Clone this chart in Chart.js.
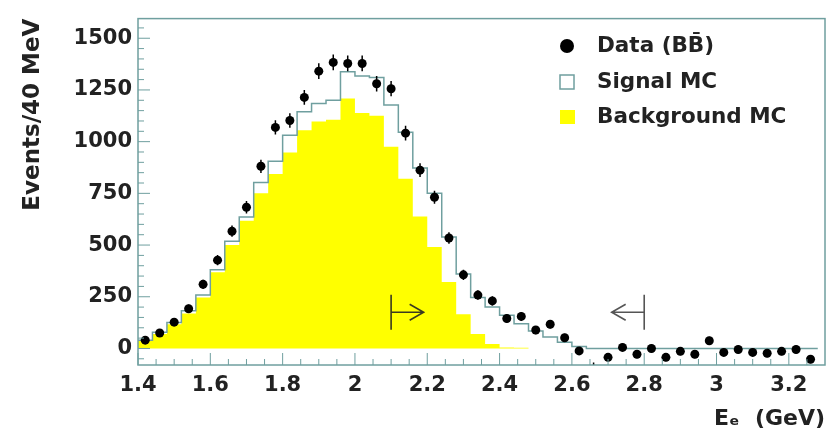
<!DOCTYPE html>
<html>
<head>
<meta charset="utf-8">
<script src="https://cdn.jsdelivr.net/npm/chart.js@4.4.1/dist/chart.umd.min.js"></script>
<style>
  body { margin: 0; background: #fff; }
</style>
</head>
<body>
<canvas id="chart" width="835" height="438"></canvas>
<script>
// bin centres (40 MeV bins)
const binCenters = [1.42, 1.46, 1.50, 1.54, 1.58, 1.62, 1.66, 1.70, 1.74, 1.78,
                    1.82, 1.86, 1.90, 1.94, 1.98, 2.02, 2.06, 2.10, 2.14, 2.18,
                    2.22, 2.26, 2.30, 2.34, 2.38, 2.42, 2.46, 2.50, 2.54, 2.58,
                    2.62, 2.66, 2.70, 2.74, 2.78, 2.82, 2.86, 2.90, 2.94, 2.98,
                    3.02, 3.06, 3.10, 3.14, 3.18, 3.22, 3.26];

// data points (BB̄) and their errors
const dataValues = [40, 75, 127, 192, 310, 427, 567, 683, 881, 1069,
                    1102, 1214, 1341, 1383, 1378, 1378, 1280, 1256, 1041, 862,
                    731, 534, 356, 258, 230, 145, 155, 89, 117, 52,
                    -12, -100, -43, 5, -28, 0, -43, -14, -28, 37,
                    -19, -5, -19, -23, -14, -5, -52];
const dataErrors = [12, 15, 18, 20, 22, 25, 27, 30, 32, 34,
                    35, 36, 38, 38, 38, 38, 38, 37, 36, 33,
                    31, 28, 25, 23, 22, 21, 21, 20, 20, 19,
                    19, 32, 19, 19, 19, 19, 19, 19, 19, 19,
                    19, 19, 19, 19, 19, 19, 19];

// signal MC (drawn on top of background) and background MC
const signalValues = [40, 78, 125, 182, 258, 380, 518, 636, 802, 905,
                      1031, 1145, 1185, 1200, 1338, 1317, 1310, 1177, 1045, 872,
                      750, 539, 360, 246, 200, 160, 120, 85, 55, 30,
                      10, 0, 0, 0, 0, 0, 0, 0, 0, 0,
                      0, 0, 0, 0, 0, 0, 0];
const backgroundValues = [37, 70, 117, 169, 246, 368, 500, 618, 750, 844,
                          948, 1055, 1097, 1106, 1209, 1139, 1125, 975, 820, 638,
                          490, 321, 166, 70, 21, 5, 4, 0, 0, 0,
                          0, 0, 0, 0, 0, 0, 0, 0, 0, 0,
                          0, 0, 0, 0, 0, 0, 0];

const xTicks = [1.4, 1.6, 1.8, 2, 2.2, 2.4, 2.6, 2.8, 3, 3.2];
const yTicks = [0, 250, 500, 750, 1000, 1250, 1500];

// cut arrows
const cutLow = 2.1;
const cutHigh = 2.8;

const frameColor = '#6f9f9f';
const halfBin = (binCenters[1] - binCenters[0]) / 2;

// histogram outline: points at left bin edges, step 'before'
function histPoints(values) {
    const pts = binCenters.map((c, i) => ({ x: c - halfBin, y: values[i] }));
    pts.push({ x: binCenters[binCenters.length - 1] + halfBin, y: 0 });
    return pts;
}

const framePlugin = {
    id: 'frame',
    afterDatasetsDraw(chart) {
        const ctx = chart.ctx;
        const a = chart.chartArea;
        const xs = chart.scales.x, ys = chart.scales.y;

        // error bars
        ctx.save();
        ctx.beginPath();
        ctx.rect(a.left, a.top, a.right - a.left, a.bottom - a.top);
        ctx.clip();
        ctx.strokeStyle = '#000';
        ctx.lineWidth = 1.5;
        dataValues.forEach((v, i) => {
            const px = xs.getPixelForValue(binCenters[i]);
            ctx.beginPath();
            ctx.moveTo(px, ys.getPixelForValue(v - dataErrors[i]));
            ctx.lineTo(px, ys.getPixelForValue(v + dataErrors[i]));
            ctx.stroke();
        });
        ctx.restore();

        // frame
        ctx.save();
        ctx.strokeStyle = frameColor;
        ctx.lineWidth = 1.5;
        ctx.strokeRect(a.left, a.top, a.right - a.left, a.bottom - a.top);

        // ticks inside the frame
        ctx.lineWidth = 1;
        for (let i = 0; i < xTicks.length; i++) {
            const step = 0.2 / 4;
            for (let k = 0; k < 4; k++) {
                const v = xTicks[i] + k * step;
                if (v > xs.max) break;
                const px = xs.getPixelForValue(v);
                ctx.beginPath();
                ctx.moveTo(px, a.bottom);
                ctx.lineTo(px, a.bottom - (k === 0 ? 12 : 6));
                ctx.stroke();
            }
        }
        for (let v = -50; v <= ys.max; v += 50) {
            const py = ys.getPixelForValue(v);
            const major = v % 250 === 0;
            ctx.beginPath();
            ctx.moveTo(a.left, py);
            ctx.lineTo(a.left + (major ? 12 : 6), py);
            ctx.stroke();
        }
        ctx.restore();

        // cut arrows
        const ay = ys.getPixelForValue(175);
        const b1 = ys.getPixelForValue(260), b2 = ys.getPixelForValue(90);
        function arrow(xv, dir, color) {
            const px = xs.getPixelForValue(xv);
            const tip = xs.getPixelForValue(xv + dir * 0.09);
            ctx.save();
            ctx.strokeStyle = color;
            ctx.lineWidth = 1.6;
            ctx.beginPath();
            ctx.moveTo(px, b1);
            ctx.lineTo(px, b2);
            ctx.moveTo(px, ay);
            ctx.lineTo(tip, ay);
            ctx.moveTo(tip - dir * 14, ay - 8);
            ctx.lineTo(tip, ay);
            ctx.lineTo(tip - dir * 14, ay + 8);
            ctx.stroke();
            ctx.restore();
        }
        arrow(cutLow, 1, '#3a3a20');
        arrow(cutHigh, -1, '#555');

        // legend
        ctx.save();
        ctx.font = 'bold 21.5px "DejaVu Sans"';
        ctx.textBaseline = 'middle';
        const lx = 567, tx = 597;
        ctx.beginPath();
        ctx.arc(lx, 46, 7, 0, Math.PI * 2);
        ctx.fillStyle = '#000';
        ctx.fill();
        ctx.strokeStyle = frameColor;
        ctx.lineWidth = 1.5;
        ctx.strokeRect(lx - 7, 75, 14, 14);
        ctx.fillStyle = '#ffff00';
        ctx.fillRect(lx - 7, 110, 15, 14);
        ctx.fillStyle = '#222';
        ctx.fillText('Data (BB\u0304)', tx, 46);
        ctx.fillText('Signal MC', tx, 82);
        ctx.fillText('Background MC', tx, 117);
        ctx.restore();
    }
};

const ctx = document.getElementById('chart').getContext('2d');
new Chart(ctx, {
    type: 'line',
    data: {
        datasets: [
            {
                label: 'Data (BB\u0304)',
                data: binCenters.map((c, i) => ({ x: c, y: dataValues[i] })),
                showLine: false,
                pointRadius: 4.5,
                pointBackgroundColor: '#000',
                pointBorderColor: '#000',
                pointBorderWidth: 0,
            },
            {
                label: 'Signal MC',
                data: histPoints(signalValues),
                stepped: 'before',
                borderColor: frameColor,
                borderWidth: 1.5,
                pointRadius: 0,
                fill: false,
            },
            {
                label: 'Background MC',
                data: histPoints(backgroundValues),
                stepped: 'before',
                borderColor: '#ffff00',
                borderWidth: 0,
                backgroundColor: '#ffff00',
                pointRadius: 0,
                fill: 'origin',
            },
        ],
    },
    options: {
        responsive: false,
        animation: false,
        layout: { padding: { left: 0, top: 8, right: 10, bottom: 0 } },
        plugins: {
            legend: { display: false },
            tooltip: { enabled: false },
        },
        scales: {
            x: {
                type: 'linear',
                min: 1.4,
                max: 3.3,
                grid: { display: false, drawTicks: false },
                border: { display: false },
                afterBuildTicks: scale => { scale.ticks = xTicks.map(v => ({ value: v })); },
                afterFit: scale => { scale.height = 73; },
                ticks: {
                    padding: 8,
                    color: '#222',
                    font: { family: 'DejaVu Sans', size: 21, weight: 'bold' },
                    callback: v => String(v),
                },
                title: {
                    display: true,
                    text: 'E\u2091  (GeV)',
                    align: 'end',
                    color: '#222',
                    padding: { top: 0, bottom: 6 },
                    font: { family: 'DejaVu Sans', size: 22, weight: 'bold' },
                },
            },
            y: {
                min: -80,
                max: 1595,
                grid: { display: false, drawTicks: false },
                border: { display: false },
                afterBuildTicks: scale => { scale.ticks = yTicks.map(v => ({ value: v })); },
                afterFit: scale => { scale.width = 138; },
                ticks: {
                    padding: 6,
                    color: '#222',
                    font: { family: 'DejaVu Sans', size: 21, weight: 'bold' },
                    callback: v => String(v),
                },
                title: {
                    display: true,
                    text: 'Events/40 MeV',
                    align: 'end',
                    color: '#222',
                    padding: { top: 19, bottom: 0 },
                    font: { family: 'DejaVu Sans', size: 23, weight: 'bold' },
                },
            },
        },
    },
    plugins: [framePlugin],
});
</script>
</body>
</html>
